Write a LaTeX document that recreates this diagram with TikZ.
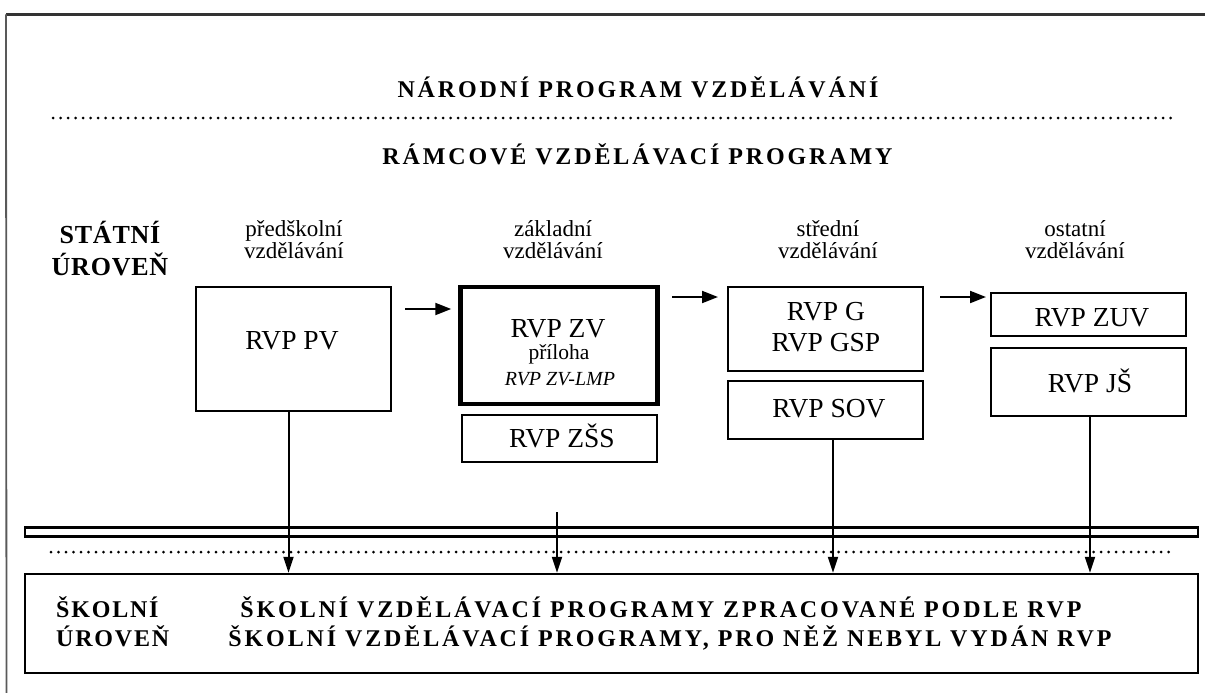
\documentclass[tikz,border=0pt]{standalone}
\usepackage{fontspec}
\setmainfont{Liberation Serif}
\usetikzlibrary{arrows.meta}
\begin{document}
\begin{tikzpicture}[x=1pt,y=-1pt,
  box/.style={draw=black, line width=2pt, minimum width=195pt, inner sep=0pt},
  bxt/.style={font=\fontsize{27.5}{31}\selectfont, anchor=base, inner sep=0pt},
  hdr/.style={font=\fontsize{24}{27}\selectfont\bfseries\addfontfeatures{LetterSpace=12}, anchor=base, inner sep=0pt},
  st/.style={font=\fontsize{26}{30}\selectfont\bfseries\addfontfeatures{LetterSpace=3}, anchor=base, inner sep=0pt},
  bt/.style={font=\fontsize{24}{26}\selectfont\bfseries\addfontfeatures{LetterSpace=12}, anchor=base, inner sep=0pt},
  btl/.style={font=\fontsize{24}{26}\selectfont\bfseries\addfontfeatures{LetterSpace=7.5}, anchor=base west, inner sep=0pt},
  lbl/.style={font=\fontsize{23}{24}\selectfont, anchor=base, inner sep=0pt},
  dots/.style={line width=3pt, line cap=round, dash pattern=on 0pt off 7.5pt},
  harrow/.style={line width=2pt, -{Triangle[length=16pt,width=12pt]}},
  varrow/.style={line width=2pt, -{Triangle[length=16pt,width=10pt]}},
]
\useasboundingbox (0,0) rectangle (1205,693);
% frame
\coordinate (f1) at (6,14.5); \coordinate (f2) at (1205,14.5); \coordinate (f3) at (6.5,693);
\draw[line width=3.2pt, black!80] (f1) -- (f2);
\draw[line width=1.8pt, black!65] (f1) -- (f3);
% headings
\node[hdr] (h1) at (638,98) {NÁRODNÍ PROGRAM VZDĚLÁVÁNÍ};
\coordinate (d1s) at (53,118); \coordinate (d1e) at (1172,118);
\draw[dots] (d1s) -- (d1e);
\node[hdr] (h2) at (637.5,164) {RÁMCOVÉ VZDĚLÁVACÍ PROGRAMY};
% state level
\node[st] (st1) at (110,243) {STÁTNÍ};
\node[st] (st2) at (110,275) {ÚROVEŇ};
% column labels
\node[lbl] (l1a) at (294,236) {předškolní};
\node[lbl] (l1b) at (294,258) {vzdělávání};
\node[lbl] (l2a) at (553,236) {základní};
\node[lbl] (l2b) at (553,258) {vzdělávání};
\node[lbl] (l3a) at (828,236) {střední};
\node[lbl] (l3b) at (828,258) {vzdělávání};
\node[lbl] (l4a) at (1075,236) {ostatní};
\node[lbl] (l4b) at (1075,258) {vzdělávání};
% boxes
\node[box, minimum height=124pt] (pv) at (293,349) {};
\node[bxt] (pvt) at (292,349) {RVP PV};
\node[box, line width=4.5pt, minimum width=197pt, minimum height=117pt] (zv) at (559,345.5) {};
\node[bxt] (zvt1) at (558,337) {RVP ZV};
\node[bxt, font=\fontsize{21.5}{23}\selectfont] (zvt2) at (559,359) {příloha};
\node[bxt, font=\fontsize{20}{22}\selectfont\itshape] (zvt3) at (560,385) {RVP ZV-LMP};
\node[box, minimum height=47pt] (zss) at (559.5,438.5) {};
\node[bxt] (zsst) at (562,447) {RVP ZŠS};
\node[box, minimum height=84pt] (g) at (825.5,328.5) {};
\node[bxt] (gt1) at (826,320) {RVP G};
\node[bxt] (gt2) at (826,351) {RVP GSP};
\node[box, minimum height=58pt] (sov) at (825.5,409.5) {};
\node[bxt] (sovt) at (829,417) {RVP SOV};
\node[box, minimum height=43pt] (zuv) at (1088.5,314.5) {};
\node[bxt] (zuvt) at (1092,326) {RVP ZUV};
\node[box, minimum height=68pt] (js) at (1088.5,381.5) {};
\node[bxt] (jst) at (1090,392) {RVP JŠ};
% horizontal arrows
\coordinate (a1s) at (405,309);
\coordinate (a2s) at (672,297);
\coordinate (a3s) at (940,297);
\draw[harrow, shorten >=7pt] (a1s) -- (a1s -| zv.west);
\draw[harrow, shorten >=9pt] (a2s) -- (a2s -| g.west);
\draw[harrow, shorten >=4pt] (a3s) -- (a3s -| zuv.west);
% bar and school level
\node[draw, line width=2.4pt, minimum width=1173pt, minimum height=9pt, inner sep=0pt] (bar) at (611.5,532) {};
\coordinate (d2s) at (51,552); \coordinate (d2e) at (1170,552);
\draw[dots] (d2s) -- (d2e);
\node[draw, line width=2.4pt, minimum width=1173pt, minimum height=99pt, inner sep=0pt] (bot) at (611.5,623.5) {};
\node[btl] (sk1) at (56,617) {ŠKOLNÍ};
\node[btl] (sk2) at (56,646) {ÚROVEŇ};
\node[bt] (m1) at (661,617) {ŠKOLNÍ VZDĚLÁVACÍ PROGRAMY ZPRACOVANÉ PODLE RVP};
\node[bt] (m2) at (670,646) {ŠKOLNÍ VZDĚLÁVACÍ PROGRAMY, PRO NĚŽ NEBYL VYDÁN RVP};
% vertical arrows
\coordinate (pvo) at ([xshift=-4.5pt]pv.south);
\coordinate (zvo) at (557,512);
\coordinate (sovo) at ([xshift=7.5pt]sov.south);
\coordinate (jso) at ([xshift=1.5pt]js.south);
\draw[varrow] (pvo) -- (pvo |- bot.north);
\draw[varrow] (zvo) -- (zvo |- bot.north);
\draw[varrow] (sovo) -- (sovo |- bot.north);
\draw[varrow] (jso) -- (jso |- bot.north);
\end{tikzpicture}
\end{document}
